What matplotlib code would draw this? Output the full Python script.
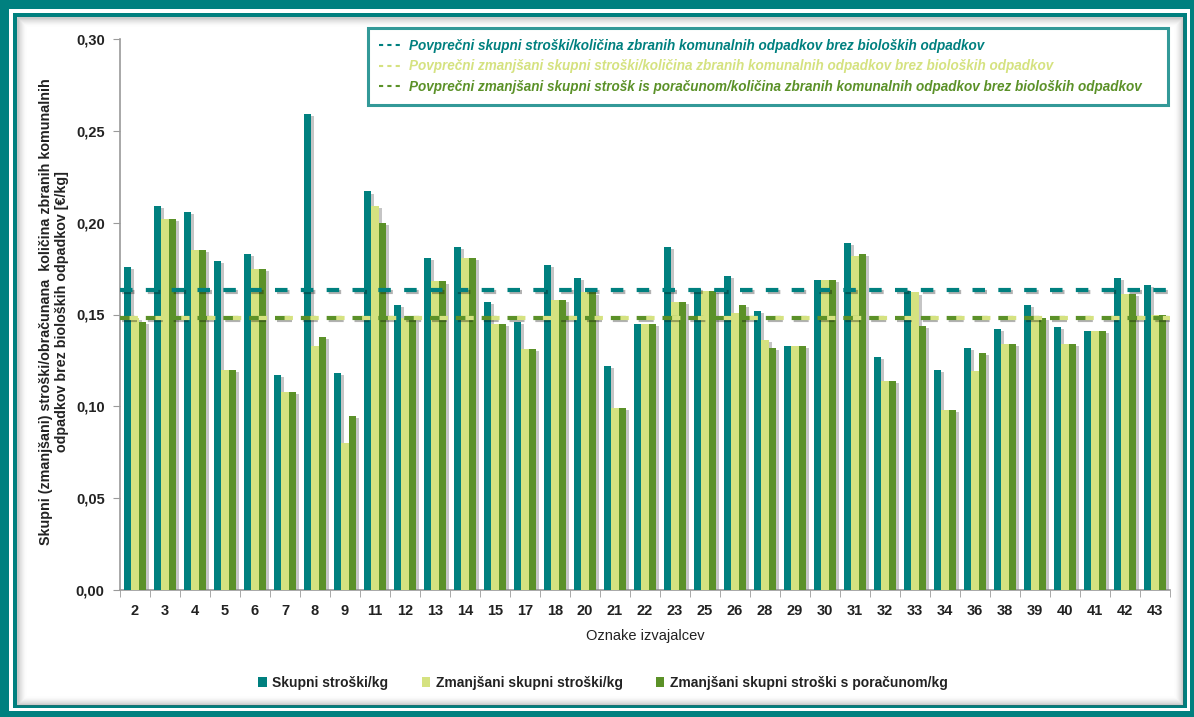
import matplotlib
matplotlib.use("Agg")
import matplotlib.pyplot as plt
import numpy as np
from matplotlib.patches import Rectangle, Patch
from matplotlib.lines import Line2D
import matplotlib.patheffects as pe

# ---------------- data ----------------
categories = ["2", "3", "4", "5", "6", "7", "8", "9", "11", "12", "13", "14", "15", "17",
              "18", "20", "21", "22", "23", "25", "26", "28", "29", "30", "31", "32", "33",
              "34", "36", "38", "39", "40", "41", "42", "43"]
skupni = [0.176, 0.209, 0.206, 0.179, 0.183, 0.117, 0.259, 0.118, 0.217, 0.155, 0.181,
          0.187, 0.157, 0.146, 0.177, 0.170, 0.122, 0.145, 0.187, 0.164, 0.171, 0.152,
          0.133, 0.169, 0.189, 0.127, 0.163, 0.120, 0.132, 0.142, 0.155, 0.143, 0.141,
          0.170, 0.166]
zmanjsani = [0.148, 0.202, 0.185, 0.120, 0.175, 0.108, 0.133, 0.080, 0.209, 0.148, 0.168,
             0.181, 0.145, 0.131, 0.158, 0.162, 0.099, 0.145, 0.157, 0.163, 0.151, 0.136,
             0.133, 0.169, 0.182, 0.114, 0.162, 0.098, 0.119, 0.134, 0.148, 0.134, 0.141,
             0.161, 0.150]
porac = [0.146, 0.202, 0.185, 0.120, 0.175, 0.108, 0.138, 0.095, 0.200, 0.147, 0.168,
         0.181, 0.145, 0.131, 0.158, 0.162, 0.099, 0.145, 0.157, 0.163, 0.155, 0.132,
         0.133, 0.169, 0.183, 0.114, 0.144, 0.098, 0.129, 0.134, 0.148, 0.134, 0.141,
         0.161, 0.150]
avg_skupni = 0.1635
avg_zmanjsani = 0.1483
avg_porac = 0.1480

series_labels = ["Skupni stroški/kg", "Zmanjšani skupni stroški/kg",
                 "Zmanjšani skupni stroški s poračunom/kg"]
avg_labels = ["Povprečni skupni stroški/količina zbranih komunalnih odpadkov brez bioloških odpadkov",
              "Povprečni zmanjšani skupni stroški/količina zbranih komunalnih odpadkov brez bioloških odpadkov",
              "Povprečni zmanjšani skupni strošk is poračunom/količina zbranih komunalnih odpadkov brez bioloških odpadkov"]
yticks = [0.00, 0.05, 0.10, 0.15, 0.20, 0.25, 0.30]
ytick_labels = ["0,00", "0,05", "0,10", "0,15", "0,20", "0,25", "0,30"]

# ---------------- style ----------------
TEAL = "#00807f"
LIGHT = "#d5e280"
DARK = "#5b9128"
FONT = ["Liberation Sans", "DejaVu Sans"]
plt.rcParams["font.family"] = FONT

W, H = 1194, 717
fig = plt.figure(figsize=(W / 100, H / 100), dpi=100)
fig.patch.set_facecolor("white")


def fx(x):
    return x / W


def fy(y):
    return 1 - y / H


def frect(x0, y0, x1, y1, **kw):
    r = Rectangle((fx(x0), fy(y1)), fx(x1) - fx(x0), fy(y0) - fy(y1),
                  transform=fig.transFigure, **kw)
    fig.patches.append(r)


# outer frame
frect(0, 0, W, H, facecolor=TEAL, edgecolor="none", zorder=-10)
frect(9, 9, 1190, 711, facecolor="white", edgecolor="none", zorder=-9)
frect(13, 13, 1187, 708, facecolor=TEAL, edgecolor="none", zorder=-8)
frect(17, 17, 1183, 705, facecolor="white", edgecolor="none", zorder=-7)
# inner shadow of panel
for i in range(10):
    a = 0.28 * (1 - i / 10) ** 2
    frect(17 + i, 17 + i, 1183 - i, 705 - i, facecolor="none",
          edgecolor=(0.35, 0.35, 0.35, a), linewidth=1.0, zorder=-6)

ax = fig.add_axes([fx(120), fy(590), fx(1170) - fx(120), fy(39) - fy(590)])
ax.set_facecolor("none")
ax.set_zorder(2)

x = np.arange(len(categories))
w = 0.255
shadow = [pe.SimplePatchShadow(offset=(2, -1.5), shadow_rgbFace="gray", alpha=0.45), pe.Normal()]
ax.bar(x - w, skupni, w, color=TEAL, path_effects=shadow, zorder=3)
ax.bar(x, zmanjsani, w, color=LIGHT, path_effects=shadow, zorder=3)
ax.bar(x + w, porac, w, color=DARK, path_effects=shadow, zorder=3)

lshadow = [pe.SimpleLineShadow(offset=(1.5, -1.5), alpha=0.3), pe.Normal()]
ax.axhline(avg_skupni, color=TEAL, lw=3, ls=(0, (3, 3.2)), zorder=4, path_effects=lshadow)
ax.axhline(avg_porac, color=DARK, lw=3, ls=(0, (3.6, 2.6)), zorder=4, path_effects=lshadow)
ax.axhline(avg_zmanjsani, color=LIGHT, lw=3, ls=(3.9, (2.0, 4.2)), zorder=4)

ax.set_xlim(-0.5, len(categories) - 0.5)
ax.set_ylim(0, 0.30)
ax.set_yticks(yticks)
ax.set_yticklabels(ytick_labels, fontsize=10.5, fontweight="bold", color="#222222")
ax.set_xticks(x)
ax.set_xticklabels(categories, fontsize=10.5, fontweight="bold", color="#222222")
ax.set_xticks(np.arange(-0.5, len(categories), 1), minor=True)
ax.tick_params(axis="x", which="major", length=0, pad=10)
ax.tick_params(axis="x", which="minor", length=5, color="#9a9a9a", direction="out")
ax.tick_params(axis="y", length=5, color="#9a9a9a", direction="out", pad=6)
for s in ["top", "right"]:
    ax.spines[s].set_visible(False)
for s in ["left", "bottom"]:
    ax.spines[s].set_color("#9a9a9a")
    ax.spines[s].set_linewidth(1.2)

ax.set_xlabel("Oznake izvajalcev", fontsize=10.5, color="#222222", labelpad=8)
fig.text(fx(54), fy(312),
         "Skupni (zmanjšani) stroški/obračunana  količina zbranih komunalnih\n"
         "odpadkov brez bioloških odpadkov [€/kg]",
         rotation=90, ha="center", va="center", fontsize=10.3, fontweight="bold",
         color="#222222", linespacing=1.15)

# top legend (average lines)
avg_colors = [TEAL, LIGHT, DARK]
h_avg = [Line2D([0], [0], color=c, lw=1.5, ls=(0, (2, 2))) for c in avg_colors]
leg = ax.legend(h_avg, avg_labels, loc="upper left", mode="expand",
                bbox_to_anchor=(fx(368), fy(107), fx(1168) - fx(368), fy(28) - fy(107)),
                bbox_transform=fig.transFigure,
                prop={"family": FONT, "size": 9.75, "weight": "bold", "style": "italic"},
                frameon=True, fancybox=False, handlelength=1.85, handletextpad=0.4,
                labelspacing=0.48, borderpad=0.8, borderaxespad=0)
leg.get_frame().set_edgecolor(TEAL)
leg.get_frame().set_linewidth(2.2)
for t, c in zip(leg.get_texts(), avg_colors):
    t.set_color(c)
leg.set_zorder(10)

# bottom legend (bar series)
h_bar = [Patch(facecolor=c, edgecolor="none") for c in [TEAL, LIGHT, DARK]]
fig.legend(h_bar, series_labels, loc="center", bbox_to_anchor=(fx(603), fy(683)),
           ncol=3, frameon=False, handlelength=0.6, handleheight=0.8, handletextpad=0.4,
           columnspacing=2.4, prop={"family": FONT, "size": 10, "weight": "bold"},
           labelcolor="#222222")

fig.savefig("out.png", dpi=100)
